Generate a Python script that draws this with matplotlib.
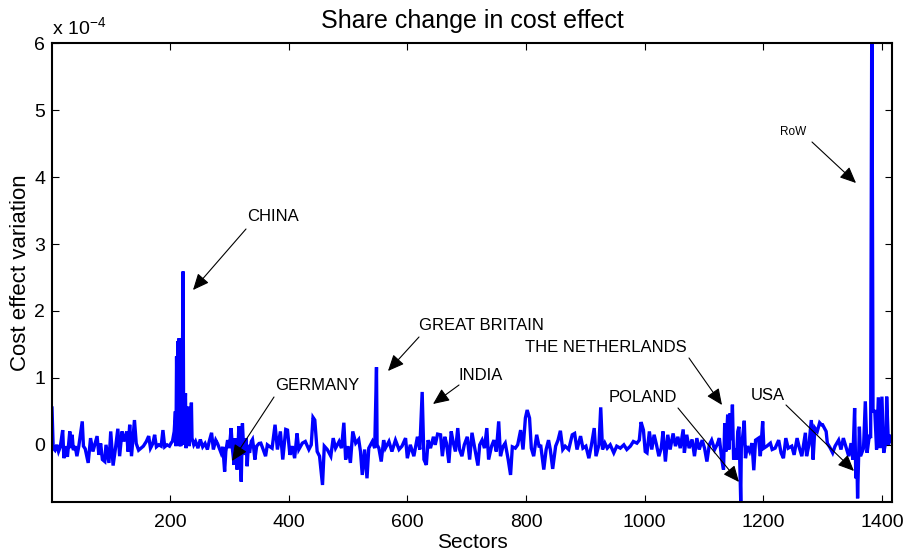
import matplotlib
matplotlib.use("Agg")
import matplotlib.pyplot as plt
import numpy as np

plt.rcParams['font.family'] = ['Liberation Sans', 'DejaVu Sans']
plt.rcParams['mathtext.fontset'] = 'custom'
plt.rcParams['mathtext.rm'] = 'Liberation Sans'
plt.rcParams['mathtext.it'] = 'Liberation Sans:italic'

# ---- data (values in units of 1e-4) ----
sec_a = [1,3,6,9,12,15,19,21,24,27,31,33,35,37,40,43,46,52,54,57,62,66,70,77,80,83,86,90,92,97,
         100,104,108,112,115,119,122,127,129,132,135,140,143,147,151,155,160,164,167,171,174,177,
         181,185,188,191,195,199,202,204,207]
val_a = [0.55,-0.05,-0.08,0.0,-0.1,-0.03,0.22,-0.2,-0.02,-0.18,0.2,-0.05,0.15,-0.08,-0.02,-0.17,
         -0.03,0.35,-0.02,-0.06,-0.27,0.1,-0.1,0.13,-0.15,0.02,-0.22,-0.25,0.0,-0.27,0.2,-0.31,-0.05,
         0.24,-0.17,0.2,0.05,0.2,-0.1,0.3,-0.17,0.37,0.02,-0.08,-0.05,-0.02,0.05,0.13,-0.05,0.02,0.15,
         -0.03,0.0,-0.02,0.22,-0.03,0.0,-0.02,0.03,0.05,0.2]

sec_china = [209,210,211,212,213,214,215,216,217,218,219,220,222,223,224,226,227,229,230,232,
             234,236,237,240,243,247,251,255,259,263,266,270,273,277]
val_china = [0.5,-0.02,1.32,0.3,1.55,0.2,1.59,-0.02,1.0,-0.02,1.59,0.3,2.59,0.0,0.3,0.77,-0.05,
             0.4,0.57,-0.02,0.2,0.63,0.1,0.0,0.05,-0.05,0.08,-0.03,0.02,-0.07,0.05,0.18,-0.07,0.07]

sec_b = [280,283,286,289,292,294,297,300,303,305,308,310,313,316,318,320,322,324,326,328,
         330,332,334,337,339,341,343,346,350,353,357,361,364,367,372,377,381,386,390,395,
         398,402,406,410,414,417,423,428,434,438,441,444,448,452,457,460,465,471,475,479,
         485,489,493,496,500,504,508,513,518,521,524,528,532,535,541,545,548,549,552,556,560]
val_b = [0.02,-0.05,-0.12,-0.03,-0.4,-0.1,0.07,-0.05,0.25,-0.05,
         -0.3,0.1,-0.37,0.28,-0.1,-0.55,0.32,-0.05,-0.15,0.1,
         -0.32,0.0,-0.12,0.05,0.08,-0.05,-0.22,-0.02,0.02,0.025,
         -0.07,-0.17,0.0,-0.02,-0.05,0.3,-0.07,0.2,-0.22,0.23,
         0.22,-0.15,-0.02,-0.2,0.17,-0.07,0.025,0.05,-0.07,0.0,
         0.41,0.37,-0.1,-0.17,-0.6,-0.02,-0.07,-0.17,0.1,-0.05,
         0.05,-0.05,0.33,-0.22,-0.02,-0.27,0.2,0.025,0.08,-0.1,
         -0.45,-0.07,-0.5,-0.05,0.05,-0.05,1.16,0.0,-0.05,-0.25,0.07]

sec_c = [563,569,574,580,586,591,597,600,605,611,617,621,625,628,632,635,639,644,647,651,
         656,659,663,666,670,674,677,681,685,688,692,696,701,705,709,713,719,722,726,730,
         734,737,742,746,750,754,757,761,765,770,774,777,782,786,791,795,799,802,806,809,
         813,818,822,825,830,834,838]
val_c = [-0.05,0.05,-0.1,0.07,-0.07,-0.02,0.1,-0.2,0.0,-0.17,
         0.12,-0.07,0.79,-0.22,-0.3,0.07,-0.05,0.12,0.0,0.16,
         0.15,-0.17,0.12,0.025,-0.27,0.2,0.05,-0.1,0.25,-0.07,
         -0.17,0.0,0.12,-0.22,0.18,-0.02,-0.31,0.0,0.07,-0.05,
         0.25,-0.22,-0.02,0.07,-0.1,0.35,-0.17,-0.03,0.025,-0.22,
         -0.45,-0.03,-0.05,0.0,0.22,-0.07,0.4,0.52,0.4,-0.05,
         -0.17,0.15,-0.02,-0.02,-0.37,-0.07,0.07]

sec_d = [841,845,850,854,858,862,866,872,878,882,886,892,896,901,906,910,915,918,923,926,
         929,933,937,942,948,953,959,965,970,976,981,987,991,994,998,1001,1004,1008,1012,1016,
         1020,1024,1028,1031,1035,1039,1043,1048,1052,1056,1060,1065,1067,1071,1075,1080,1084,
         1088,1092,1097,1101,1105,1109,1113,1118]
val_d = [-0.07,-0.36,-0.02,0.07,0.21,-0.07,-0.02,-0.07,0.15,0.17,
         -0.07,0.13,-0.05,-0.02,-0.2,-0.02,0.25,-0.17,0.0,0.56,
         -0.07,0.025,-0.05,0.0,-0.12,-0.02,-0.05,0.0,-0.07,-0.02,
         0.05,0.025,0.07,0.34,0.22,-0.1,-0.12,0.2,-0.07,0.15,
         0.0,-0.17,-0.05,0.2,-0.25,0.15,-0.07,0.17,-0.02,0.12,
         -0.05,0.23,-0.12,0.15,-0.05,0.08,-0.17,0.1,-0.07,0.07,
         -0.05,-0.25,0.0,0.07,-0.07]

sec_e = [1122,1126,1130,1133,1135,1137,1140,1142,1144,1146,1148,1150,1153,1155,1157,1159,1162,1163,
         1165,1168,1170,1173,1177,1181,1184,1187,1192,1195,1199,1201,1206,1212,1215,1220,1226,1230,
         1234,1238,1242,1248,1252,1257,1261,1265,1271,1273,1277,1281,1284,1287,1291,1295,1298,1300,
         1303,1306,1308,1313,1317,1321,1327,1331,1335,1340,1344,1348,1351,1354,1356,1358,1359,1362,
         1364,1369,1372,1375,1379,1381,1383,1385,1388,1391,1394,1397,1400,1403,1407,1408,1411,1414,1417]
val_e = [0.0,0.1,-0.22,-0.37,0.32,-0.1,0.45,-0.07,0.47,0.07,
         0.6,-0.22,-0.05,-0.22,0.2,0.27,-0.85,-0.05,0.1,0.36,
         -0.2,-0.02,-0.1,0.025,-0.38,0.07,0.1,-0.17,0.35,-0.05,
         -0.02,0.025,-0.07,-0.05,0.07,-0.12,-0.2,0.1,-0.05,-0.02,
         -0.15,0.1,-0.05,-0.17,0.18,-0.17,0.0,0.37,-0.22,0.25,
         0.2,0.33,0.3,0.3,0.25,0.2,0.025,-0.05,-0.12,-0.02,
         0.07,-0.07,0.1,-0.05,-0.17,0.025,-0.22,0.55,-0.5,-0.3,
         -0.8,0.27,-0.17,-0.05,0.65,-0.12,0.15,0.1,6.8,0.5,
         0.5,-0.07,0.71,-0.05,0.72,-0.12,0.07,0.72,0.0,0.15,0.05]

SCALE_LABEL = r'x 10$^{-4}$'
x_ticks = [200, 400, 600, 800, 1000, 1200, 1400]
y_ticks = [0, 1, 2, 3, 4, 5, 6]

labels = ["CHINA", "GERMANY", "GREAT BRITAIN", "INDIA", "THE NETHERLANDS", "POLAND", "USA", "RoW"]

sectors = np.array(sec_a + sec_china + sec_b + sec_c + sec_d + sec_e)
values = np.array(val_a + val_china + val_b + val_c + val_d + val_e)
for s_, v_ in [(sec_a, val_a), (sec_china, val_china), (sec_b, val_b), (sec_c, val_c), (sec_d, val_d), (sec_e, val_e)]:
    assert len(s_) == len(v_), (len(s_), len(v_))

W, H = 907, 551
fig = plt.figure(figsize=(W/100, H/100), dpi=100)
ax = fig.add_axes([52/W, 1-501.7/H, (892-52)/W, (501.7-43.3)/H])
ax.plot(sectors, values, color=(0, 0, 1), lw=2.4, solid_joinstyle='miter')
ax.set_xlim(1, 1417)
ax.set_ylim(-0.85, 6)
ax.set_xticks(x_ticks)
ax.set_yticks(y_ticks)
ax.tick_params(direction='in', top=True, right=True, length=5, width=0.8, labelsize=14)
ax.tick_params(axis='x', pad=9)
ax.tick_params(axis='y', pad=5)
for sp in ax.spines.values():
    sp.set_linewidth(1.5)
ax.set_xlabel("Sectors", fontsize=15, labelpad=1)
ax.set_ylabel("Cost effect variation", fontsize=16, labelpad=2)
ax.set_title("Share change in cost effect", fontsize=18, pad=11)
ax.text(0.0, 1.012, SCALE_LABEL, transform=ax.transAxes, ha='left', va='bottom', fontsize=14)

def fp(x, y):
    return (x/W, 1-y/H)

# text positions (left, vcenter) and arrows (tail -> head) in figure pixels
ann = [
    ("CHINA", (247, 217), (246, 229), (193, 290), 12),
    ("GERMANY", (275, 386), (274, 397), (232, 461), 12),
    ("GREAT BRITAIN", (419, 326), (419, 337), (388, 371), 12),
    ("INDIA", (459, 376), (459, 385), (433, 404), 12),
    ("THE NETHERLANDS", (525, 348), (689, 358), (722, 405), 12),
    ("POLAND", (609, 398), (678, 408), (739, 482), 12),
    ("USA", (751, 395), (786, 405), (854, 471), 12),
    ("RoW", (780, 132), (812, 142), (856, 183), 8.5),
]
for txt, tpos, tail, head, fs in ann:
    fig.text(*fp(*tpos), txt, ha='left', va='center', fontsize=fs)
    fig.add_artist(matplotlib.patches.FancyArrowPatch(
        fp(*tail), fp(*head), transform=fig.transFigure,
        arrowstyle='-|>,head_length=0.9,head_width=0.4', mutation_scale=11,
        color='black', lw=0.8, shrinkA=0, shrinkB=0))

fig.savefig("out.png", dpi=100)
